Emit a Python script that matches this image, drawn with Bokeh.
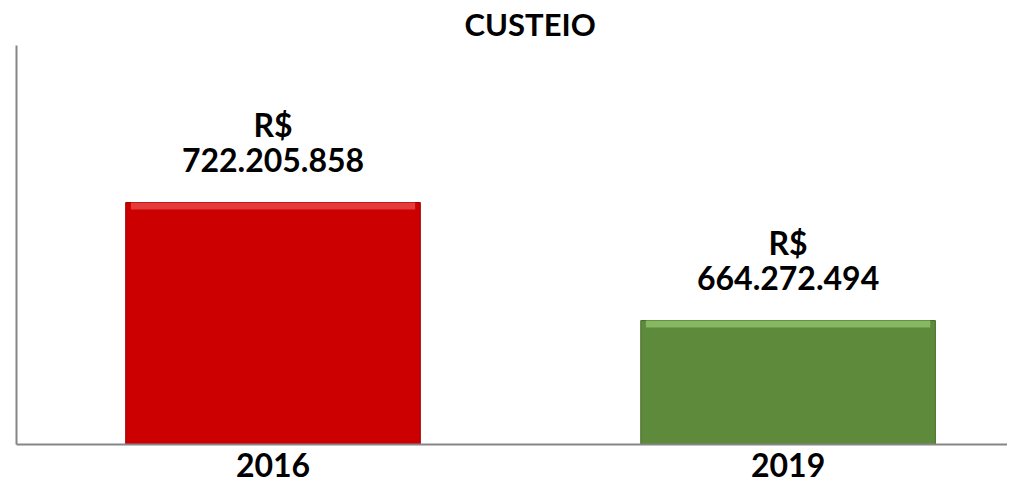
from bokeh.plotting import figure
from bokeh.models import Range1d, FixedTicker, ColumnDataSource
from bokeh.embed import file_html
from bokeh.resources import INLINE
from bokeh.core.properties import value

# ---- data ----
title_text = "CUSTEIO"
years = ["2016", "2019"]
amounts = [722205858, 664272494]
value_labels = ["722.205.858", "664.272.494"]
currency = ["R$", "R$"]
bar_colors = ["#CC0000", "#5E8B3B"]
bevel_colors = ["#E84545", "#8DC06A"]
edge_colors = ["#9E0000", "#466B2A"]

# ---- layout ----
Y0, Y1 = 603.4e6, 799.3e6
FRAME_H = 399
bevel_h = (Y1 - Y0) * 7 / FRAME_H

idx = list(range(len(years)))
src = ColumnDataSource(dict(
    x=idx, top=amounts, label=value_labels, cur=currency,
    color=bar_colors, bevel=bevel_colors, edge=edge_colors,
    bevel_bottom=[a - bevel_h for a in amounts],
))

p = figure(width=1007, height=487, output_backend="svg", toolbar_location=None,
           x_range=Range1d(-0.498, 1.426), y_range=Range1d(Y0, Y1),
           min_border_left=16, min_border_right=0, min_border_top=45,
           min_border_bottom=43)
p.background_fill_color = "white"
p.border_fill_color = "white"
p.outline_line_color = None
p.grid.visible = False

bw = 0.572
p.vbar(x="x", top="top", bottom=Y0, width=bw, source=src,
       fill_color="color", line_color="edge", line_width=1)
p.vbar(x="x", top="top", bottom="bevel_bottom", width=bw - 0.02, source=src,
       fill_color="bevel", line_color=None, fill_alpha=0.85)

FONT = value("Lato")
p.text(x="x", y="top", text="label", source=src, text_font=FONT,
       text_font_style="bold", text_font_size="32px", text_color="black",
       text_align="center", text_baseline="alphabetic", y_offset=-43)
p.text(x="x", y="top", text="cur", source=src, text_font=FONT,
       text_font_style="bold", text_font_size="32px", text_color="black",
       text_align="center", text_baseline="alphabetic", y_offset=-78)

xa = p.xaxis[0]
xa.ticker = FixedTicker(ticks=idx)
xa.major_label_overrides = {i: y for i, y in zip(idx, years)}
xa.major_tick_line_color = None
xa.minor_tick_line_color = None
xa.axis_line_color = "#868686"
xa.axis_line_width = 2
xa.major_label_text_font = "Lato"
xa.major_label_text_font_style = "bold"
xa.major_label_text_font_size = "32px"
xa.major_label_text_color = "black"
xa.major_label_standoff = 2

ya = p.yaxis[0]
ya.ticker = FixedTicker(ticks=[])
ya.major_tick_line_color = None
ya.minor_tick_line_color = None
ya.axis_line_color = "#868686"
ya.axis_line_width = 2
ya.major_label_text_font_size = "0px"

p.title.text = title_text
p.title.align = "left"
p.title.vertical_align = "bottom"
p.title.text_font = "Lato"
p.title.text_font_style = "bold"
p.title.text_font_size = "31px"
p.title.text_color = "black"
p.title.offset = 448
p.title.standoff = 5

open("out.html", "w").write(file_html(p, INLINE))
